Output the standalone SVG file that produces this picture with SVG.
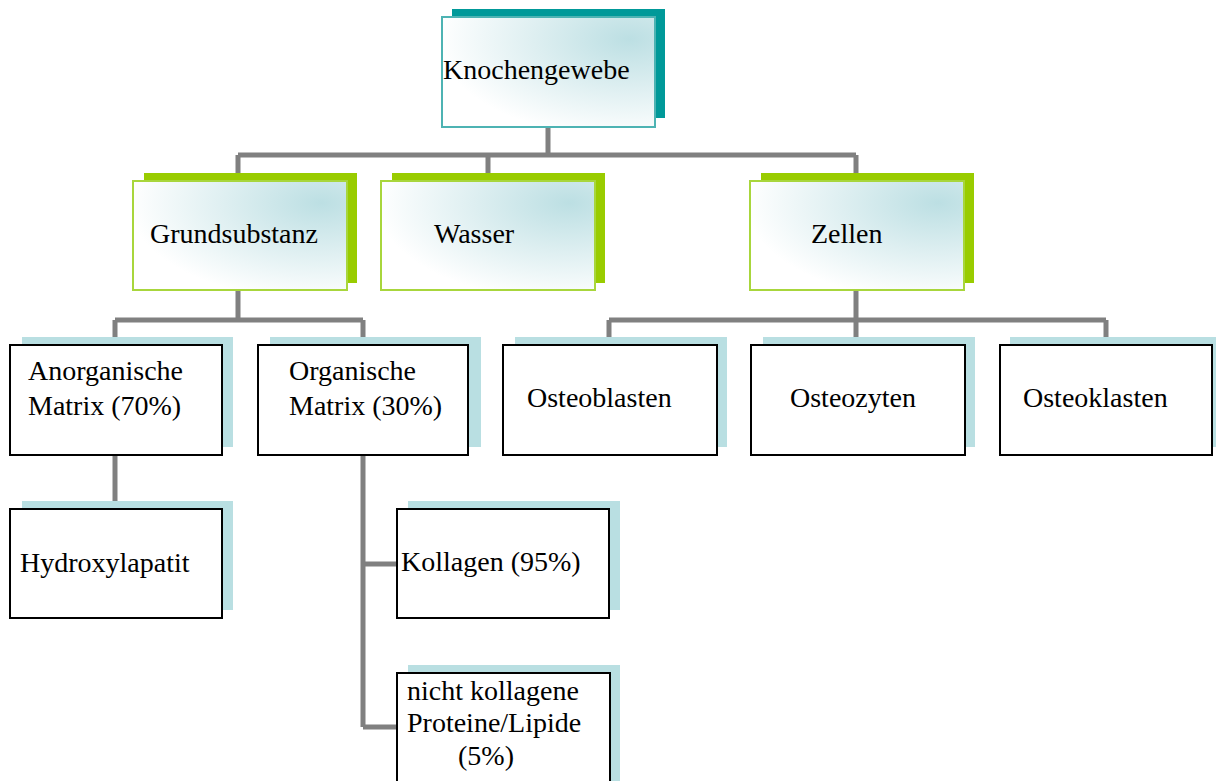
<svg xmlns="http://www.w3.org/2000/svg" width="1216" height="781" viewBox="0 0 1216 781">
<defs>
<radialGradient id="glow" cx="0.88" cy="0.2" r="0.9" fx="0.88" fy="0.2">
<stop offset="0" stop-color="#bcdfe3"/>
<stop offset="0.5" stop-color="#deeff1"/>
<stop offset="1" stop-color="#ffffff"/>
</radialGradient>
<style>
text{font-family:'Liberation Serif','DejaVu Serif',serif;font-size:28px;fill:#000}
.conn{stroke:#808080;stroke-width:5;fill:none}
.shT{fill:#009999}
.shG{fill:#99cc00}
.shB{fill:#b9dfe2}
.frT{fill:url(#glow);stroke:#4db3b3;stroke-width:2}
.frG{fill:url(#glow);stroke:#a8d63c;stroke-width:2}
.fr{fill:#fff;stroke:#000;stroke-width:2}
</style>
</defs>
<g font-family="Liberation Serif, DejaVu Serif, serif" font-size="28">
<g id="connectors">
<path class="conn" d="M548 125V155M238 155H856M238 155V185M488 155V185M856 155V185"/>
<path class="conn" d="M238 288V320M115 320H363M115 320V347M363 320V347"/>
<path class="conn" d="M856 288V320M609 320H1106M609 320V347M856 320V347M1106 320V347"/>
<path class="conn" d="M115 454V511"/>
<path class="conn" d="M363 454V727M363 564H399M363 727H399"/>
</g>
<g id="knochengewebe">
<rect class="shT" x="452" y="9" width="213" height="109"/>
<rect class="frT" x="442" y="17" width="213" height="110"/>
<text x="443" y="79">Knochengewebe</text>
</g>
<g id="grundsubstanz">
<rect class="shG" x="144" y="173" width="213" height="110"/>
<rect class="frG" x="133" y="181" width="214" height="109"/>
<text x="150" y="243">Grundsubstanz</text>
</g>
<g id="wasser">
<rect class="shG" x="392" y="173" width="213" height="110"/>
<rect class="frG" x="381" y="181" width="214" height="109"/>
<text x="434" y="243">Wasser</text>
</g>
<g id="zellen">
<rect class="shG" x="761" y="173" width="213" height="110"/>
<rect class="frG" x="750" y="181" width="214" height="109"/>
<text x="811" y="243">Zellen</text>
</g>
<g id="anorganische">
<rect class="shB" x="22" y="337" width="211" height="110"/>
<rect class="fr" x="10" y="345" width="212" height="110"/>
<text x="28" y="380">Anorganische</text>
<text x="28" y="415">Matrix (70%)</text>
</g>
<g id="organische">
<rect class="shB" x="270" y="337" width="211" height="110"/>
<rect class="fr" x="258" y="345" width="210" height="110"/>
<text x="289" y="380">Organische</text>
<text x="289" y="415">Matrix (30%)</text>
</g>
<g id="osteoblasten">
<rect class="shB" x="515" y="337" width="212" height="110"/>
<rect class="fr" x="503" y="345" width="214" height="110"/>
<text x="527" y="407">Osteoblasten</text>
</g>
<g id="osteozyten">
<rect class="shB" x="763" y="337" width="212" height="110"/>
<rect class="fr" x="751" y="345" width="214" height="110"/>
<text x="790" y="407">Osteozyten</text>
</g>
<g id="osteoklasten">
<rect class="shB" x="1010" y="337" width="213" height="110"/>
<rect class="fr" x="1000" y="345" width="212" height="110"/>
<text x="1023" y="407">Osteoklasten</text>
</g>
<g id="hydroxylapatit">
<rect class="shB" x="22" y="501" width="211" height="109"/>
<rect class="fr" x="10" y="509" width="212" height="109"/>
<text x="20" y="572">Hydroxylapatit</text>
</g>
<g id="kollagen">
<rect class="shB" x="408" y="501" width="212" height="109"/>
<rect class="fr" x="397" y="509" width="212" height="109"/>
<text x="401" y="571">Kollagen (95%)</text>
</g>
<g id="nichtkollagene">
<rect class="shB" x="408" y="665" width="212" height="120"/>
<rect class="fr" x="397" y="673" width="213" height="120"/>
<text x="407" y="700">nicht kollagene</text>
<text x="407" y="732">Proteine/Lipide</text>
<text x="458" y="765">(5%)</text>
</g>
</g>
</svg>
